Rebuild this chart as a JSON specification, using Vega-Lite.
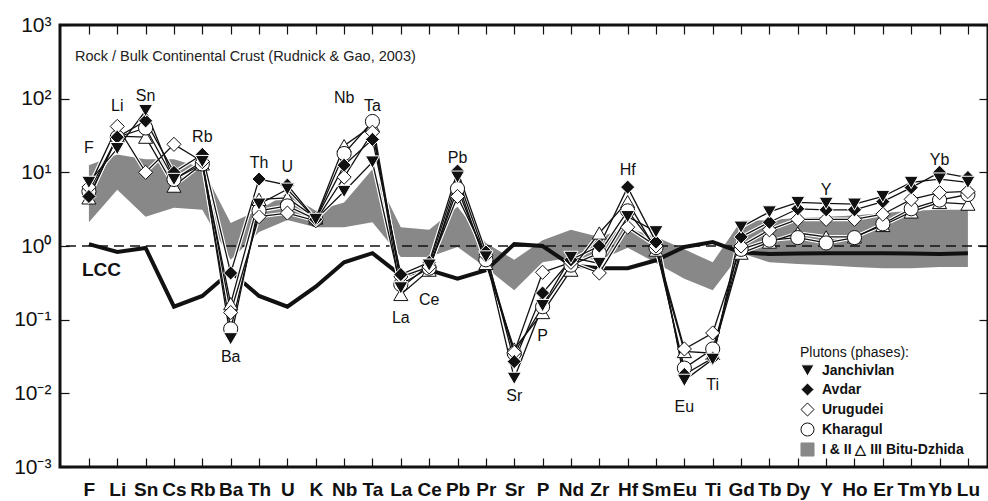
{
  "$schema": "https://vega.github.io/schema/vega-lite/v6.json",
  "width": 928,
  "height": 442,
  "autosize": {"type": "none"},
  "padding": {"left": 60, "top": 25, "right": 0, "bottom": 34},
  "background": "white",
  "config": {
    "view": {"stroke": "#111111", "strokeWidth": 3},
    "axis": {"grid": false, "domain": false, "title": null, "tickColor": "#111111", "tickWidth": 1.2, "tickSize": -9, "labelColor": "#111111", "labelFlush": false, "labelOverlap": false, "labelBound": false},
    "legend": {"orient": "none", "legendX": 740, "legendY": 321, "padding": 0, "titleFont": "Liberation Sans", "titleFontSize": 14, "titleFontWeight": "normal", "titleColor": "#111111", "titlePadding": 3, "labelFont": "Liberation Sans", "labelFontSize": 14, "labelFontWeight": "bold", "labelColor": "#111111", "labelOffset": 7, "symbolSize": 170, "symbolStrokeWidth": 1, "rowPadding": 1}
  },
  "datasets": {
    "band": [
      {"element": "F", "upper": 12.5, "lower": 2.1},
      {"element": "Li", "upper": 17.5, "lower": 5.8},
      {"element": "Sn", "upper": 15, "lower": 2.5},
      {"element": "Cs", "upper": 15, "lower": 3.3},
      {"element": "Rb", "upper": 11.5, "lower": 3.1},
      {"element": "Ba", "upper": 2.05, "lower": 0.65},
      {"element": "Th", "upper": 3.1, "lower": 1.55},
      {"element": "U", "upper": 5.2, "lower": 2.25},
      {"element": "K", "upper": 3.0, "lower": 1.8},
      {"element": "Nb", "upper": 3.9, "lower": 1.8},
      {"element": "Ta", "upper": 11, "lower": 2.1},
      {"element": "La", "upper": 1.8, "lower": 0.71},
      {"element": "Ce", "upper": 1.66, "lower": 0.71},
      {"element": "Pb", "upper": 3.4, "lower": 0.97},
      {"element": "Pr", "upper": 1.1, "lower": 0.51},
      {"element": "Sr", "upper": 0.65, "lower": 0.25},
      {"element": "P", "upper": 1.2, "lower": 0.6},
      {"element": "Nd", "upper": 1.66, "lower": 0.7},
      {"element": "Zr", "upper": 1.33, "lower": 0.64},
      {"element": "Hf", "upper": 1.75, "lower": 0.95},
      {"element": "Sm", "upper": 1.33, "lower": 0.59},
      {"element": "Eu", "upper": 0.9, "lower": 0.36},
      {"element": "Ti", "upper": 0.6, "lower": 0.25},
      {"element": "Gd", "upper": 2.2, "lower": 0.8},
      {"element": "Tb", "upper": 2.25, "lower": 0.6},
      {"element": "Dy", "upper": 2.4, "lower": 0.57},
      {"element": "Y", "upper": 2.5, "lower": 0.55},
      {"element": "Ho", "upper": 2.6, "lower": 0.52},
      {"element": "Er", "upper": 2.8, "lower": 0.5},
      {"element": "Tm", "upper": 3.0, "lower": 0.5},
      {"element": "Yb", "upper": 3.1, "lower": 0.52},
      {"element": "Lu", "upper": 3.1, "lower": 0.52}
    ],
    "lcc": [
      {"element": "F", "value": 1.06},
      {"element": "Li", "value": 0.83},
      {"element": "Sn", "value": 0.94},
      {"element": "Cs", "value": 0.15},
      {"element": "Rb", "value": 0.21},
      {"element": "Ba", "value": 0.45},
      {"element": "Th", "value": 0.21},
      {"element": "U", "value": 0.15},
      {"element": "K", "value": 0.28},
      {"element": "Nb", "value": 0.6},
      {"element": "Ta", "value": 0.8},
      {"element": "La", "value": 0.4},
      {"element": "Ce", "value": 0.47},
      {"element": "Pb", "value": 0.36},
      {"element": "Pr", "value": 0.47},
      {"element": "Sr", "value": 1.06},
      {"element": "P", "value": 1.0},
      {"element": "Nd", "value": 0.55},
      {"element": "Zr", "value": 0.5},
      {"element": "Hf", "value": 0.5},
      {"element": "Sm", "value": 0.64},
      {"element": "Eu", "value": 0.97},
      {"element": "Ti", "value": 1.13},
      {"element": "Gd", "value": 0.82},
      {"element": "Tb", "value": 0.78},
      {"element": "Dy", "value": 0.79},
      {"element": "Y", "value": 0.8},
      {"element": "Ho", "value": 0.8},
      {"element": "Er", "value": 0.8},
      {"element": "Tm", "value": 0.79},
      {"element": "Yb", "value": 0.78},
      {"element": "Lu", "value": 0.8}
    ],
    "plutons": [
      {"series": "Bitu-Dzhida III", "element": "F", "value": 4.5},
      {"series": "Bitu-Dzhida III", "element": "Li", "value": 31},
      {"series": "Bitu-Dzhida III", "element": "Sn", "value": 30},
      {"series": "Bitu-Dzhida III", "element": "Cs", "value": 6.5},
      {"series": "Bitu-Dzhida III", "element": "Rb", "value": 13},
      {"series": "Bitu-Dzhida III", "element": "Ba", "value": 0.165},
      {"series": "Bitu-Dzhida III", "element": "Th", "value": 4.3},
      {"series": "Bitu-Dzhida III", "element": "U", "value": 4.5},
      {"series": "Bitu-Dzhida III", "element": "K", "value": 2.4},
      {"series": "Bitu-Dzhida III", "element": "Nb", "value": 23},
      {"series": "Bitu-Dzhida III", "element": "Ta", "value": 43},
      {"series": "Bitu-Dzhida III", "element": "La", "value": 0.22},
      {"series": "Bitu-Dzhida III", "element": "Ce", "value": 0.47},
      {"series": "Bitu-Dzhida III", "element": "Pb", "value": 7.3},
      {"series": "Bitu-Dzhida III", "element": "Pr", "value": 0.58},
      {"series": "Bitu-Dzhida III", "element": "Sr", "value": 0.04},
      {"series": "Bitu-Dzhida III", "element": "P", "value": 0.125},
      {"series": "Bitu-Dzhida III", "element": "Nd", "value": 0.47},
      {"series": "Bitu-Dzhida III", "element": "Zr", "value": 1.5},
      {"series": "Bitu-Dzhida III", "element": "Hf", "value": 4.0},
      {"series": "Bitu-Dzhida III", "element": "Sm", "value": 0.88},
      {"series": "Bitu-Dzhida III", "element": "Eu", "value": 0.037},
      {"series": "Bitu-Dzhida III", "element": "Ti", "value": 0.035},
      {"series": "Bitu-Dzhida III", "element": "Gd", "value": 0.8},
      {"series": "Bitu-Dzhida III", "element": "Tb", "value": 1.13},
      {"series": "Bitu-Dzhida III", "element": "Dy", "value": 1.5},
      {"series": "Bitu-Dzhida III", "element": "Y", "value": 1.33},
      {"series": "Bitu-Dzhida III", "element": "Ho", "value": 1.33},
      {"series": "Bitu-Dzhida III", "element": "Er", "value": 1.9},
      {"series": "Bitu-Dzhida III", "element": "Tm", "value": 2.9},
      {"series": "Bitu-Dzhida III", "element": "Yb", "value": 3.9},
      {"series": "Bitu-Dzhida III", "element": "Lu", "value": 3.7},
      {"series": "Kharagul", "element": "F", "value": 5.5},
      {"series": "Kharagul", "element": "Li", "value": 30},
      {"series": "Kharagul", "element": "Sn", "value": 40},
      {"series": "Kharagul", "element": "Cs", "value": 8},
      {"series": "Kharagul", "element": "Rb", "value": 13},
      {"series": "Kharagul", "element": "Ba", "value": 0.075},
      {"series": "Kharagul", "element": "Th", "value": 3},
      {"series": "Kharagul", "element": "U", "value": 3.5},
      {"series": "Kharagul", "element": "K", "value": 2.3},
      {"series": "Kharagul", "element": "Nb", "value": 18},
      {"series": "Kharagul", "element": "Ta", "value": 49},
      {"series": "Kharagul", "element": "La", "value": 0.3},
      {"series": "Kharagul", "element": "Ce", "value": 0.5},
      {"series": "Kharagul", "element": "Pb", "value": 6},
      {"series": "Kharagul", "element": "Pr", "value": 0.65},
      {"series": "Kharagul", "element": "Sr", "value": 0.035},
      {"series": "Kharagul", "element": "P", "value": 0.15},
      {"series": "Kharagul", "element": "Nd", "value": 0.55},
      {"series": "Kharagul", "element": "Zr", "value": 0.8},
      {"series": "Kharagul", "element": "Hf", "value": 3},
      {"series": "Kharagul", "element": "Sm", "value": 0.95},
      {"series": "Kharagul", "element": "Eu", "value": 0.022},
      {"series": "Kharagul", "element": "Ti", "value": 0.04},
      {"series": "Kharagul", "element": "Gd", "value": 0.9},
      {"series": "Kharagul", "element": "Tb", "value": 1.2},
      {"series": "Kharagul", "element": "Dy", "value": 1.3},
      {"series": "Kharagul", "element": "Y", "value": 1.1},
      {"series": "Kharagul", "element": "Ho", "value": 1.3},
      {"series": "Kharagul", "element": "Er", "value": 2.0},
      {"series": "Kharagul", "element": "Tm", "value": 3.2},
      {"series": "Kharagul", "element": "Yb", "value": 4.2},
      {"series": "Kharagul", "element": "Lu", "value": 5.0},
      {"series": "Urugudei", "element": "F", "value": 6.3},
      {"series": "Urugudei", "element": "Li", "value": 42},
      {"series": "Urugudei", "element": "Sn", "value": 10},
      {"series": "Urugudei", "element": "Cs", "value": 24},
      {"series": "Urugudei", "element": "Rb", "value": 14},
      {"series": "Urugudei", "element": "Ba", "value": 0.125},
      {"series": "Urugudei", "element": "Th", "value": 2.5},
      {"series": "Urugudei", "element": "U", "value": 2.8},
      {"series": "Urugudei", "element": "K", "value": 2.2},
      {"series": "Urugudei", "element": "Nb", "value": 8.6},
      {"series": "Urugudei", "element": "Ta", "value": 35},
      {"series": "Urugudei", "element": "La", "value": 0.38},
      {"series": "Urugudei", "element": "Ce", "value": 0.52},
      {"series": "Urugudei", "element": "Pb", "value": 4.7},
      {"series": "Urugudei", "element": "Pr", "value": 0.75},
      {"series": "Urugudei", "element": "Sr", "value": 0.036},
      {"series": "Urugudei", "element": "P", "value": 0.44},
      {"series": "Urugudei", "element": "Nd", "value": 0.6},
      {"series": "Urugudei", "element": "Zr", "value": 0.43},
      {"series": "Urugudei", "element": "Hf", "value": 1.8},
      {"series": "Urugudei", "element": "Sm", "value": 1.0},
      {"series": "Urugudei", "element": "Eu", "value": 0.04},
      {"series": "Urugudei", "element": "Ti", "value": 0.066},
      {"series": "Urugudei", "element": "Gd", "value": 1.0},
      {"series": "Urugudei", "element": "Tb", "value": 1.66},
      {"series": "Urugudei", "element": "Dy", "value": 2.3},
      {"series": "Urugudei", "element": "Y", "value": 2.3},
      {"series": "Urugudei", "element": "Ho", "value": 2.3},
      {"series": "Urugudei", "element": "Er", "value": 2.7},
      {"series": "Urugudei", "element": "Tm", "value": 4.3},
      {"series": "Urugudei", "element": "Yb", "value": 5.3},
      {"series": "Urugudei", "element": "Lu", "value": 5.5},
      {"series": "Avdar", "element": "F", "value": 4.7},
      {"series": "Avdar", "element": "Li", "value": 30},
      {"series": "Avdar", "element": "Sn", "value": 50},
      {"series": "Avdar", "element": "Cs", "value": 10},
      {"series": "Avdar", "element": "Rb", "value": 17.5},
      {"series": "Avdar", "element": "Ba", "value": 0.43},
      {"series": "Avdar", "element": "Th", "value": 8.1},
      {"series": "Avdar", "element": "U", "value": 6.7},
      {"series": "Avdar", "element": "K", "value": 2.3},
      {"series": "Avdar", "element": "Nb", "value": 12.5},
      {"series": "Avdar", "element": "Ta", "value": 28},
      {"series": "Avdar", "element": "La", "value": 0.41},
      {"series": "Avdar", "element": "Ce", "value": 0.6},
      {"series": "Avdar", "element": "Pb", "value": 10.4},
      {"series": "Avdar", "element": "Pr", "value": 0.83},
      {"series": "Avdar", "element": "Sr", "value": 0.027},
      {"series": "Avdar", "element": "P", "value": 0.23},
      {"series": "Avdar", "element": "Nd", "value": 0.65},
      {"series": "Avdar", "element": "Zr", "value": 1.0},
      {"series": "Avdar", "element": "Hf", "value": 6.3},
      {"series": "Avdar", "element": "Sm", "value": 1.13},
      {"series": "Avdar", "element": "Eu", "value": 0.018},
      {"series": "Avdar", "element": "Ti", "value": 0.03},
      {"series": "Avdar", "element": "Gd", "value": 1.33},
      {"series": "Avdar", "element": "Tb", "value": 2.1},
      {"series": "Avdar", "element": "Dy", "value": 3.2},
      {"series": "Avdar", "element": "Y", "value": 3.1},
      {"series": "Avdar", "element": "Ho", "value": 3.1},
      {"series": "Avdar", "element": "Er", "value": 4.0},
      {"series": "Avdar", "element": "Tm", "value": 6.2},
      {"series": "Avdar", "element": "Yb", "value": 10},
      {"series": "Avdar", "element": "Lu", "value": 8.5},
      {"series": "Janchivlan", "element": "F", "value": 7.3},
      {"series": "Janchivlan", "element": "Li", "value": 21},
      {"series": "Janchivlan", "element": "Sn", "value": 69},
      {"series": "Janchivlan", "element": "Cs", "value": 8},
      {"series": "Janchivlan", "element": "Rb", "value": 14},
      {"series": "Janchivlan", "element": "Ba", "value": 0.055},
      {"series": "Janchivlan", "element": "Th", "value": 3.7},
      {"series": "Janchivlan", "element": "U", "value": 5.9},
      {"series": "Janchivlan", "element": "K", "value": 2.3},
      {"series": "Janchivlan", "element": "Nb", "value": 5.5},
      {"series": "Janchivlan", "element": "Ta", "value": 13.8},
      {"series": "Janchivlan", "element": "La", "value": 0.27},
      {"series": "Janchivlan", "element": "Ce", "value": 0.55},
      {"series": "Janchivlan", "element": "Pb", "value": 8.6},
      {"series": "Janchivlan", "element": "Pr", "value": 0.71},
      {"series": "Janchivlan", "element": "Sr", "value": 0.016},
      {"series": "Janchivlan", "element": "P", "value": 0.155},
      {"series": "Janchivlan", "element": "Nd", "value": 0.7},
      {"series": "Janchivlan", "element": "Zr", "value": 0.58},
      {"series": "Janchivlan", "element": "Hf", "value": 2.5},
      {"series": "Janchivlan", "element": "Sm", "value": 1.56},
      {"series": "Janchivlan", "element": "Eu", "value": 0.015},
      {"series": "Janchivlan", "element": "Ti", "value": 0.029},
      {"series": "Janchivlan", "element": "Gd", "value": 1.8},
      {"series": "Janchivlan", "element": "Tb", "value": 2.9},
      {"series": "Janchivlan", "element": "Dy", "value": 3.9},
      {"series": "Janchivlan", "element": "Y", "value": 3.8},
      {"series": "Janchivlan", "element": "Ho", "value": 3.7},
      {"series": "Janchivlan", "element": "Er", "value": 4.7},
      {"series": "Janchivlan", "element": "Tm", "value": 7.3},
      {"series": "Janchivlan", "element": "Yb", "value": 8.1},
      {"series": "Janchivlan", "element": "Lu", "value": 7.3}
    ],
    "labels": [
      {"element": "F", "value": 21.4, "label": "F"},
      {"element": "Li", "value": 79, "label": "Li"},
      {"element": "Sn", "value": 108, "label": "Sn"},
      {"element": "Rb", "value": 30, "label": "Rb"},
      {"element": "Th", "value": 13.4, "label": "Th"},
      {"element": "U", "value": 11.8, "label": "U"},
      {"element": "Nb", "value": 102, "label": "Nb"},
      {"element": "Ta", "value": 79, "label": "Ta"},
      {"element": "Pb", "value": 15.6, "label": "Pb"},
      {"element": "Hf", "value": 10.7, "label": "Hf"},
      {"element": "Y", "value": 5.75, "label": "Y"},
      {"element": "Yb", "value": 14.7, "label": "Yb"},
      {"element": "Ba", "value": 0.031, "label": "Ba"},
      {"element": "La", "value": 0.105, "label": "La"},
      {"element": "Ce", "value": 0.185, "label": "Ce"},
      {"element": "Sr", "value": 0.0092, "label": "Sr"},
      {"element": "P", "value": 0.06, "label": "P"},
      {"element": "Eu", "value": 0.0065, "label": "Eu"},
      {"element": "Ti", "value": 0.013, "label": "Ti"}
    ],
    "notes": [
      {"element": "F", "value": 367, "label": "Rock / Bulk Continental Crust (Rudnick & Gao, 2003)"}
    ],
    "lcclabel": [
      {"element": "F", "value": 0.47, "label": "LCC"}
    ],
    "unity": [
      {"level": 1}
    ]
  },
  "layer": [
    {
      "data": {"name": "band"},
      "mark": {"type": "area", "fill": "#888888", "stroke": null, "opacity": 1},
      "encoding": {
        "x": {
          "field": "element", "type": "ordinal",
          "sort": ["F","Li","Sn","Cs","Rb","Ba","Th","U","K","Nb","Ta","La","Ce","Pb","Pr","Sr","P","Nd","Zr","Hf","Sm","Eu","Ti","Gd","Tb","Dy","Y","Ho","Er","Tm","Yb","Lu"],
          "scale": {"type": "point", "padding": 0.864, "align": 0.59},
          "axis": {"orient": "bottom", "labelAngle": 0, "labelFont": "Liberation Sans Narrow, Liberation Sans", "labelFontSize": 19, "labelFontWeight": "bold", "labelPadding": 22, "labelBaseline": "top"}
        },
        "y": {
          "field": "upper", "type": "quantitative",
          "scale": {"type": "log", "domain": [0.001, 1000], "nice": false},
          "axis": {"orient": "left", "values": [0.001, 0.01, 0.1, 1, 10, 100, 1000], "labelFont": "Liberation Sans", "labelFontSize": 21, "labelPadding": 18, "labelExpr": "datum.value >= 999 ? '10³' : datum.value >= 99 ? '10²' : datum.value >= 9 ? '10¹' : datum.value >= 0.9 ? '10⁰' : datum.value >= 0.09 ? '10⁻¹' : datum.value >= 0.009 ? '10⁻²' : '10⁻³'"}
        },
        "y2": {"field": "lower"}
      }
    },
    {
      "data": {"name": "unity"},
      "mark": {"type": "rule", "color": "#111111", "strokeWidth": 1.4, "strokeDash": [10, 6]},
      "encoding": {
        "y": {"field": "level", "type": "quantitative", "axis": null}
      }
    },
    {
      "data": {"name": "lcc"},
      "mark": {"type": "line", "color": "#111111", "strokeWidth": 4, "strokeJoin": "miter"},
      "encoding": {
        "x": {"field": "element", "type": "ordinal", "sort": ["F","Li","Sn","Cs","Rb","Ba","Th","U","K","Nb","Ta","La","Ce","Pb","Pr","Sr","P","Nd","Zr","Hf","Sm","Eu","Ti","Gd","Tb","Dy","Y","Ho","Er","Tm","Yb","Lu"], "axis": {"orient": "top", "labels": false}},
        "y": {"field": "value", "type": "quantitative", "axis": {"orient": "right", "labels": false, "values": [0.001, 0.01, 0.1, 1, 10, 100, 1000]}}
      }
    },
    {
      "data": {"name": "plutons"},
      "mark": {"type": "line", "color": "#ffffff", "strokeWidth": 3.6},
      "encoding": {
        "x": {"field": "element", "type": "ordinal", "sort": ["F","Li","Sn","Cs","Rb","Ba","Th","U","K","Nb","Ta","La","Ce","Pb","Pr","Sr","P","Nd","Zr","Hf","Sm","Eu","Ti","Gd","Tb","Dy","Y","Ho","Er","Tm","Yb","Lu"], "axis": null},
        "y": {"field": "value", "type": "quantitative", "axis": null},
        "detail": {"field": "series"}
      }
    },
    {
      "data": {"name": "plutons"},
      "mark": {"type": "line", "color": "#111111", "strokeWidth": 1.3},
      "encoding": {
        "x": {"field": "element", "type": "ordinal", "sort": ["F","Li","Sn","Cs","Rb","Ba","Th","U","K","Nb","Ta","La","Ce","Pb","Pr","Sr","P","Nd","Zr","Hf","Sm","Eu","Ti","Gd","Tb","Dy","Y","Ho","Er","Tm","Yb","Lu"], "axis": null},
        "y": {"field": "value", "type": "quantitative", "axis": null},
        "detail": {"field": "series"}
      }
    },
    {
      "data": {"name": "plutons"},
      "mark": {"type": "point", "filled": true, "size": 200, "strokeWidth": 1, "opacity": 1},
      "encoding": {
        "x": {"field": "element", "type": "ordinal", "sort": ["F","Li","Sn","Cs","Rb","Ba","Th","U","K","Nb","Ta","La","Ce","Pb","Pr","Sr","P","Nd","Zr","Hf","Sm","Eu","Ti","Gd","Tb","Dy","Y","Ho","Er","Tm","Yb","Lu"], "axis": null},
        "y": {"field": "value", "type": "quantitative", "axis": null},
        "shape": {
          "field": "series", "type": "nominal", "title": "Plutons (phases):",
          "scale": {"domain": ["Janchivlan","Avdar","Urugudei","Kharagul","Bitu-Dzhida III","I & II △ III Bitu-Dzhida"], "range": ["triangle-down","diamond","diamond","circle","triangle-up","square"]},
          "legend": {"values": ["Janchivlan","Avdar","Urugudei","Kharagul","I & II △ III Bitu-Dzhida"], "symbolSize": 170}
        },
        "fill": {
          "field": "series", "type": "nominal", "title": "Plutons (phases):",
          "scale": {"domain": ["Janchivlan","Avdar","Urugudei","Kharagul","Bitu-Dzhida III","I & II △ III Bitu-Dzhida"], "range": ["#111111","#111111","#ffffff","#ffffff","#ffffff","#888888"]},
          "legend": {"values": ["Janchivlan","Avdar","Urugudei","Kharagul","I & II △ III Bitu-Dzhida"], "symbolSize": 170}
        },
        "stroke": {
          "field": "series", "type": "nominal", "title": "Plutons (phases):",
          "scale": {"domain": ["Janchivlan","Avdar","Urugudei","Kharagul","Bitu-Dzhida III","I & II △ III Bitu-Dzhida"], "range": ["#ffffff","#ffffff","#111111","#111111","#111111","#888888"]},
          "legend": {"values": ["Janchivlan","Avdar","Urugudei","Kharagul","I & II △ III Bitu-Dzhida"], "symbolSize": 170}
        }
      }
    },
    {
      "data": {"name": "labels"},
      "mark": {"type": "text", "font": "Liberation Sans", "fontSize": 16, "color": "#111111", "align": "center", "baseline": "middle"},
      "encoding": {
        "x": {"field": "element", "type": "ordinal", "sort": ["F","Li","Sn","Cs","Rb","Ba","Th","U","K","Nb","Ta","La","Ce","Pb","Pr","Sr","P","Nd","Zr","Hf","Sm","Eu","Ti","Gd","Tb","Dy","Y","Ho","Er","Tm","Yb","Lu"], "axis": null},
        "y": {"field": "value", "type": "quantitative", "axis": null},
        "text": {"field": "label"}
      }
    },
    {
      "data": {"name": "lcclabel"},
      "mark": {"type": "text", "font": "Liberation Sans", "fontSize": 19, "fontWeight": "bold", "color": "#111111", "align": "left", "baseline": "middle", "dx": -7},
      "encoding": {
        "x": {"field": "element", "type": "ordinal", "sort": ["F","Li","Sn","Cs","Rb","Ba","Th","U","K","Nb","Ta","La","Ce","Pb","Pr","Sr","P","Nd","Zr","Hf","Sm","Eu","Ti","Gd","Tb","Dy","Y","Ho","Er","Tm","Yb","Lu"], "axis": null},
        "y": {"field": "value", "type": "quantitative", "axis": null},
        "text": {"field": "label"}
      }
    },
    {
      "data": {"name": "notes"},
      "mark": {"type": "text", "font": "Liberation Sans", "fontSize": 14.5, "color": "#222222", "align": "left", "baseline": "middle", "dx": -14},
      "encoding": {
        "x": {"field": "element", "type": "ordinal", "sort": ["F","Li","Sn","Cs","Rb","Ba","Th","U","K","Nb","Ta","La","Ce","Pb","Pr","Sr","P","Nd","Zr","Hf","Sm","Eu","Ti","Gd","Tb","Dy","Y","Ho","Er","Tm","Yb","Lu"], "axis": null},
        "y": {"field": "value", "type": "quantitative", "axis": null},
        "text": {"field": "label"}
      }
    }
  ],
  "resolve": {"axis": {"x": "independent", "y": "independent"}}
}
